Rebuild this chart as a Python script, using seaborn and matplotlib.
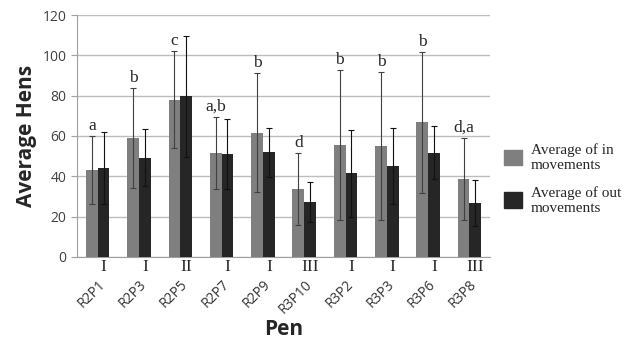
import numpy as np
import pandas as pd
import matplotlib.pyplot as plt
import seaborn as sns

pens = ['R2P1', 'R2P3', 'R2P5', 'R2P7', 'R2P9', 'R3P10', 'R3P2', 'R3P3', 'R3P6', 'R3P8']
in_mean = [43, 59, 78, 51.5, 61.5, 33.7, 55.5, 55, 66.7, 38.8]
in_sd = [17, 25, 24, 18, 29.5, 18, 37, 36.5, 35, 20.3]
out_mean = [44, 49.3, 79.8, 51, 52, 27.2, 41.5, 45.2, 51.8, 26.8]
out_sd = [18, 14, 30, 17.5, 12.2, 10, 21.5, 18.8, 13.2, 11.5]
letters = ['a', 'b', 'c', 'a,b', 'b', 'd', 'b', 'b', 'b', 'd,a']
groups = ['I', 'I', 'II', 'I', 'I', 'III', 'I', 'I', 'I', 'III']
series = ['Average of in\nmovements', 'Average of out\nmovements']

df = pd.DataFrame({
    'Pen': pens * 2,
    'val': in_mean + out_mean,
    'sd': in_sd + out_sd,
    'series': [series[0]] * len(pens) + [series[1]] * len(pens),
})

sns.set_style('white')
fig = plt.figure(figsize=(6.24, 3.5), dpi=100)
ax = fig.add_axes([0.1234, 0.266, 0.662, 0.691])

sns.barplot(data=df, x='Pen', y='val', hue='series', palette=['#7f7f7f', '#262626'],
            width=0.57, gap=0, errorbar=None, legend=False, ax=ax, zorder=3,
            linewidth=0, saturation=1)

# error bars from bar centres
bars = [p for p in ax.patches if p.get_height() > 0]
xs = [b.get_x() + b.get_width() / 2 for b in bars]
n = len(pens)
ax.errorbar(xs[:n], in_mean, yerr=in_sd, fmt='none', ecolor='#404040', elinewidth=0.8,
            capsize=2, capthick=0.8, zorder=4)
ax.errorbar(xs[n:], out_mean, yerr=out_sd, fmt='none', ecolor='#111111', elinewidth=0.8,
            capsize=2, capthick=0.8, zorder=4)

serif = ['Liberation Serif', 'DejaVu Serif']
for i in range(n):
    ax.text(xs[i], in_mean[i] + in_sd[i] + 1, letters[i], ha='center', va='bottom',
            fontsize=12.5, family=serif)
    ax.text(xs[n + i], -1, groups[i], ha='center', va='top', fontsize=12.5,
            family=serif, clip_on=False)

ax.set_ylim(0, 120)
ax.set_yticks(range(0, 121, 20))
ax.set_xlim(-0.5, n - 0.5)
ax.yaxis.grid(True, color='#bdbdbd', linewidth=1, zorder=0)
ax.set_axisbelow(True)
for s in ['top', 'right']:
    ax.spines[s].set_visible(False)
ax.spines['left'].set_color('#a0a0a0')
ax.spines['bottom'].set_color('#a0a0a0')
ax.tick_params(axis='y', left=True, length=4, color='#a0a0a0', labelsize=10,
               labelcolor='#404040')
ax.tick_params(axis='x', bottom=False, labelsize=10, labelcolor='#333333', pad=11)
for lab in ax.get_xticklabels():
    lab.set_rotation(45)
    lab.set_ha('right')
    lab.set_rotation_mode('anchor')
    lab.set_family(['Open Sans', 'DejaVu Sans'])
for lab in ax.get_yticklabels():
    lab.set_family(['Open Sans', 'DejaVu Sans'])

ax.set_ylabel('Average Hens', fontsize=15, fontweight='bold', family=['Open Sans', 'DejaVu Sans'])
ax.set_xlabel('Pen', fontsize=15, fontweight='bold', family=['Open Sans', 'DejaVu Sans'],
              labelpad=2)

handles = [plt.Rectangle((0, 0), 1, 1, color=c) for c in ['#7f7f7f', '#262626']]
fig.legend(handles, series, loc='upper left', bbox_to_anchor=(0.785, 0.63),
           frameon=False, prop={'family': serif, 'size': 11}, handlelength=1.2,
           handleheight=1.2, labelspacing=0.9, handletextpad=0.6)

fig.savefig('out.png', dpi=100)
